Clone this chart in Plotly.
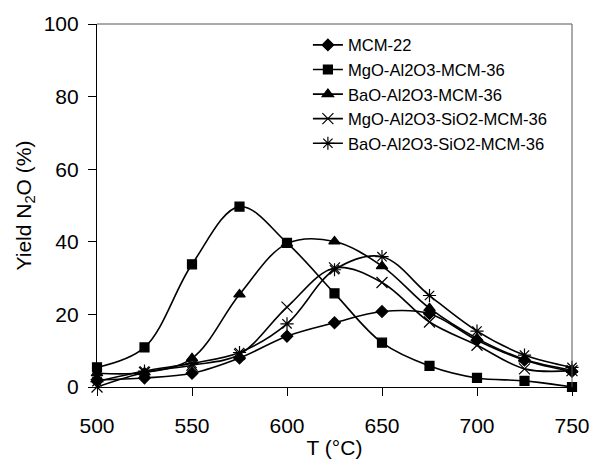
import plotly.graph_objects as go

T = [500, 525, 550, 575, 600, 625, 650, 675, 700, 725, 750]

names = ["MCM-22", "MgO-Al2O3-MCM-36", "BaO-Al2O3-MCM-36",
         "MgO-Al2O3-SiO2-MCM-36", "BaO-Al2O3-SiO2-MCM-36"]

mcm22 = [2.0, 2.5, 3.8, 8.0, 14.0, 17.7, 20.8, 20.2, 12.9, 7.4, 4.3]
mgo_al = [5.4, 10.9, 33.8, 49.7, 39.7, 25.8, 12.2, 5.8, 2.5, 1.7, 0.0]
bao_al = [3.8, 4.0, 7.9, 25.5, 39.5, 40.1, 33.3, 21.7, 13.4, 7.6, 4.7]
mgo_si = [0.0, 4.0, 6.0, 9.0, 22.0, 32.8, 28.8, 17.9, 11.5, 5.0, 4.5]
bao_si = [1.5, 4.4, 6.5, 9.5, 17.4, 32.3, 35.9, 25.2, 15.4, 8.8, 5.4]

series = [mcm22, mgo_al, bao_al, mgo_si, bao_si]
symbols = ["diamond", "square", "triangle-up", "x-thin-open", "asterisk-open"]
sizes = [9, 9, 10, 11, 11]

fig = go.Figure()
for i, (nm, ys, sym, sz) in enumerate(zip(names, series, symbols, sizes)):
    fig.add_trace(go.Scatter(
        x=T, y=ys, name=nm, mode="lines+markers",
        line=dict(color="black", width=1.6, shape="spline", smoothing=1.0),
        marker=dict(symbol=sym, size=sz, color="black",
                    line=dict(color="black", width=1.2)),
        cliponaxis=False,
    ))

fig.update_layout(
    width=602, height=468,
    margin=dict(l=97, r=19, t=22, b=79),
    paper_bgcolor="white", plot_bgcolor="white",
    font=dict(family="Liberation Sans, Arial, sans-serif", color="black"),
    showlegend=True,
    legend=dict(x=0.444, y=0.99, xanchor="left", yanchor="top",
                font=dict(size=16.6), bgcolor="rgba(0,0,0,0)",
                traceorder="normal", itemwidth=30),
    xaxis=dict(range=[500, 750], tickvals=[500, 550, 600, 650, 700, 750],
               showgrid=False, zeroline=False, showline=True,
               linecolor="black", linewidth=1.2, ticks="outside",
               ticklen=8, tickcolor="black", tickfont=dict(size=21),
               ticklabelstandoff=12,
               title=dict(text="T (°C)", font=dict(size=21), standoff=4)),
    yaxis=dict(range=[0, 100], tickvals=[0, 20, 40, 60, 80, 100],
               showgrid=False, zeroline=False, showline=True,
               linecolor="black", linewidth=1.2, ticks="outside",
               ticklen=8, tickcolor="black", tickfont=dict(size=21),
               ticklabelstandoff=5,
               title=dict(text="Yield N<sub>2</sub>O (%)", font=dict(size=21),
                          standoff=6)),
    shapes=[
        dict(type="line", xref="paper", yref="paper", x0=0, x1=1, y0=1, y1=1,
             line=dict(color="#555555", width=1)),
        dict(type="line", xref="paper", yref="paper", x0=1, x1=1, y0=0, y1=1,
             line=dict(color="#555555", width=1)),
    ],
)

fig.write_html("out.html")
